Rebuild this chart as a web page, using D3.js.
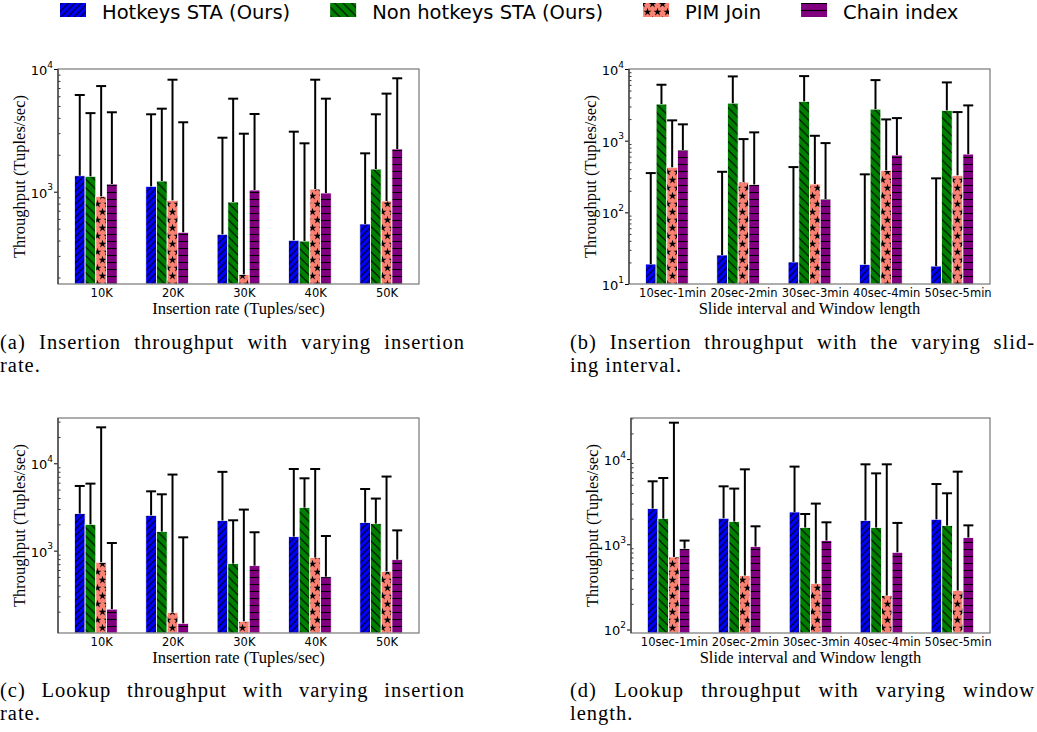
<!DOCTYPE html>
<html>
<head>
<meta charset="utf-8">
<script src="https://cdn.jsdelivr.net/npm/d3@7"></script>
<style>
body { margin: 0; background: #fff; }
svg { display: block; }
</style>
</head>
<body>
<svg id="fig" width="1037" height="732"></svg>
<script>
// series, in legend order
var series = ["Hotkeys STA (Ours)", "Non hotkeys STA (Ours)", "PIM Join", "Chain index"];
var seriesColors = ["#0000ff", "#008000", "#fa8072", "#800080"];

var rateCats = ["10K", "20K", "30K", "40K", "50K"];
var windowCats = ["10sec-1min", "20sec-2min", "30sec-3min", "40sec-4min", "50sec-5min"];

// (a) insertion throughput vs insertion rate: [series][category]
var insRateVals = [
  [1350, 1107, 450, 402, 546],
  [1335, 1222, 824, 396, 1530],
  [917, 851, 212, 1051, 840],
  [1155, 467, 1032, 976, 2230]
];
// upper end of each error bar
var insRateErrTop = [
  [6140, 4275, 2755, 3085, 2055],
  [4370, 4750, 5730, 2480, 4275],
  [7260, 8180, 2970, 8180, 6300],
  [4440, 3680, 4300, 5730, 8400]
];

// (b) insertion throughput vs slide interval
var insSlideVals = [
  [19, 25.4, 20.3, 18.8, 17.8],
  [3240, 3340, 3530, 2755, 2640],
  [425, 265, 248, 385, 328],
  [740, 245, 153, 630, 650]
];
var insSlideErrTop = [
  [353, 368, 428, 339, 298],
  [6030, 7880, 7960, 7000, 6500],
  [1920, 1052, 1170, 1980, 2505],
  [1690, 1306, 925, 2065, 3105]
];

// (c) lookup throughput vs insertion rate
var lookRateVals = [
  [2655, 2535, 2210, 1446, 2094],
  [2000, 1652, 710, 3110, 2037],
  [735, 195, 155, 832, 579],
  [214, 147, 673, 503, 788]
];
var lookRateErrTop = [
  [5500, 4775, 7980, 8600, 5080],
  [5850, 4415, 2225, 6730, 3945],
  [25800, 7430, 2950, 8600, 7050],
  [1222, 1420, 1623, 1470, 1706]
];

// (d) lookup throughput vs window length
var lookWinVals = [
  [2620, 2020, 2395, 1897, 1963],
  [2000, 1845, 1570, 1570, 1655],
  [710, 430, 346, 250, 286],
  [890, 940, 1105, 805, 1198]
];
var lookWinErrTop = [
  [5480, 4785, 8150, 8670, 5090],
  [5990, 4500, 2265, 6790, 3965],
  [26700, 7570, 3000, 8670, 7110],
  [1105, 1625, 1810, 1780, 1667]
];

var yLabel = "Throughput (Tuples/sec)";

var panels = [
  {id: "a", box: [58, 69, 419, 284], yDomain: [177, 1e4], cats: rateCats,
   vals: insRateVals, errs: insRateErrTop, xLabel: "Insertion rate (Tuples/sec)",
   caption: ["(a) Insertion throughput with varying insertion", "rate."], capX: 0, capY: 349},
  {id: "b", box: [629, 69, 990, 284], yDomain: [10, 1e4], cats: windowCats,
   vals: insSlideVals, errs: insSlideErrTop, xLabel: "Slide interval and Window length",
   caption: ["(b) Insertion throughput with the varying slid-", "ing interval."], capX: 570, capY: 349},
  {id: "c", box: [58, 418, 419, 633], yDomain: [114, 33000], cats: rateCats,
   vals: lookRateVals, errs: lookRateErrTop, xLabel: "Insertion rate (Tuples/sec)",
   caption: ["(c) Lookup throughput with varying insertion", "rate."], capX: 0, capY: 697},
  {id: "d", box: [631, 418, 990, 633], yDomain: [91, 30300], cats: windowCats,
   vals: lookWinVals, errs: lookWinErrTop, xLabel: "Slide interval and Window length",
   caption: ["(d) Lookup throughput with varying window", "length."], capX: 570, capY: 697}
];

var svg = d3.select("#fig");
var defs = svg.append("defs");

// hatch patterns: "//", "\\", "*", "-"
function makePatterns() {
  var p0 = defs.append("pattern").attr("id", "hatch0").attr("patternUnits", "userSpaceOnUse")
    .attr("width", 6.5).attr("height", 6.5);
  p0.append("rect").attr("width", 6.5).attr("height", 6.5).attr("fill", seriesColors[0]);
  p0.append("path").attr("d", "M-1,7.5L7.5,-1M-2,2L2,-2M4.5,8.5L8.5,4.5")
    .attr("stroke", "#000").attr("stroke-width", 1.1);

  var p1 = defs.append("pattern").attr("id", "hatch1").attr("patternUnits", "userSpaceOnUse")
    .attr("width", 8.5).attr("height", 8.5);
  p1.append("rect").attr("width", 8.5).attr("height", 8.5).attr("fill", seriesColors[1]);
  p1.append("path").attr("d", "M-1,-1L9.5,9.5M-2,6.5L2,10.5M6.5,-2L10.5,2")
    .attr("stroke", "#000").attr("stroke-width", 1.1);

  var p2 = defs.append("pattern").attr("id", "hatch2").attr("patternUnits", "userSpaceOnUse")
    .attr("width", 10).attr("height", 16);
  p2.append("rect").attr("width", 10).attr("height", 16).attr("fill", seriesColors[2]);
  var star = d3.symbol().type(d3.symbolStar).size(20)();
  [[2.5, 4], [7.5, 12], [12.5, 4], [-2.5, 12]].forEach(function(c) {
    p2.append("path").attr("d", star).attr("transform", "translate(" + c[0] + "," + c[1] + ")").attr("fill", "#000");
  });

  var p3 = defs.append("pattern").attr("id", "hatch3").attr("patternUnits", "userSpaceOnUse")
    .attr("width", 8).attr("height", 7);
  p3.append("rect").attr("width", 8).attr("height", 7).attr("fill", seriesColors[3]);
  p3.append("path").attr("d", "M0,3.5H8").attr("stroke", "#000").attr("stroke-width", 1.1);
}
makePatterns();

function drawPanel(p) {
  var L = p.box[0], T = p.box[1], R = p.box[2], B = p.box[3];
  var g = svg.append("g").attr("class", "panel-" + p.id);
  var x = d3.scaleLinear().domain([-0.305, 4.755]).range([L, R]);
  var y = d3.scaleLog().domain(p.yDomain).range([B, T]);
  var bw = x(0.15) - x(0);

  defs.append("clipPath").attr("id", "clip-" + p.id)
    .append("rect").attr("x", L).attr("y", T).attr("width", R - L).attr("height", B - T);

  var plot = g.append("g").attr("clip-path", "url(#clip-" + p.id + ")");

  series.forEach(function(s, k) {
    plot.append("g").selectAll("rect")
      .data(p.vals[k])
      .enter()
      .append("rect")
      .attr("x", function(d, i) { return x(i + k * 0.15) - bw / 2; })
      .attr("y", function(d) { return y(d); })
      .attr("width", bw)
      .attr("height", function(d) { return B - y(d); })
      .attr("fill", "url(#hatch" + k + ")")
      .attr("stroke", "#fff")
      .attr("stroke-width", 0.8);
  });

  // upper error bars with caps
  series.forEach(function(s, k) {
    var eb = plot.append("g").selectAll("g")
      .data(p.vals[k].map(function(v, i) { return {i: i, v: v, top: p.errs[k][i]}; }))
      .enter()
      .append("g");
    eb.append("line")
      .attr("x1", function(d) { return x(d.i + k * 0.15); })
      .attr("x2", function(d) { return x(d.i + k * 0.15); })
      .attr("y1", function(d) { return y(d.v); })
      .attr("y2", function(d) { return y(d.top); })
      .attr("stroke", "#000").attr("stroke-width", 2);
    eb.append("line")
      .attr("x1", function(d) { return x(d.i + k * 0.15) - 5; })
      .attr("x2", function(d) { return x(d.i + k * 0.15) + 5; })
      .attr("y1", function(d) { return y(d.top); })
      .attr("y2", function(d) { return y(d.top); })
      .attr("stroke", "#000").attr("stroke-width", 2);
  });

  // y axis: majors outward with 10^n labels, minors inward
  var lo = Math.log10(p.yDomain[0]), hi = Math.log10(p.yDomain[1]);
  var majors = [], minors = [];
  for (var e = Math.floor(lo); e <= Math.ceil(hi); e++) {
    var base = Math.pow(10, e);
    if (base >= p.yDomain[0] * 0.999 && base <= p.yDomain[1] * 1.001) majors.push(base);
    for (var m = 2; m <= 9; m++) {
      var v = m * base;
      if (v > p.yDomain[0] && v < p.yDomain[1]) minors.push(v);
    }
  }

  var minorAxis = g.append("g").attr("transform", "translate(" + L + ",0)")
    .call(d3.axisLeft(y).tickValues(minors).tickSize(-2.5).tickFormat(""));
  minorAxis.select(".domain").remove();
  minorAxis.selectAll("line").attr("stroke", "#333");

  var majorAxis = g.append("g").attr("transform", "translate(" + L + ",0)")
    .call(d3.axisLeft(y).tickValues(majors).tickSize(4).tickPadding(2).tickFormat(function() { return ""; }));
  majorAxis.select(".domain").remove();
  majorAxis.selectAll(".tick text").each(function(d) {
    var t = d3.select(this)
      .attr("font-family", "DejaVu Sans").attr("font-size", 13).attr("fill", "#000")
      .attr("dy", "0.42em").attr("x", -5);
    t.append("tspan").text("10");
    t.append("tspan").attr("font-size", 9).attr("dy", "-0.8em").text(Math.round(Math.log10(d)));
  });

  // x axis: category labels under the third bar of each group
  var xAxis = g.append("g").attr("transform", "translate(0," + B + ")")
    .call(d3.axisBottom(x).tickValues(d3.range(p.cats.length).map(function(i) { return i + 0.3; }))
      .tickSize(0).tickPadding(5).tickFormat(function(d, i) { return p.cats[i]; }));
  xAxis.select(".domain").remove();
  xAxis.selectAll("text").attr("font-family", "DejaVu Sans").attr("font-size", 11.5).attr("fill", "#000");

  // frame
  g.append("rect").attr("x", L).attr("y", T).attr("width", R - L).attr("height", B - T)
    .attr("fill", "none").attr("stroke", "#777").attr("stroke-width", 1.2);
  g.append("line").attr("x1", L).attr("x2", L).attr("y1", T).attr("y2", B)
    .attr("stroke", "#333").attr("stroke-width", 1.2);

  // axis labels
  g.append("text")
    .attr("x", (L + R) / 2).attr("y", B + 30)
    .attr("text-anchor", "middle")
    .attr("font-family", "Liberation Serif").attr("font-size", 16.5)
    .text(p.xLabel);
  g.append("text")
    .attr("transform", "translate(" + (L - 33) + "," + ((T + B) / 2) + ") rotate(-90)")
    .attr("text-anchor", "middle")
    .attr("font-family", "Liberation Serif").attr("font-size", 16.5)
    .text(yLabel);

  // caption, first line justified to full column width
  var capW = 465;
  p.caption.forEach(function(line, li) {
    var t = svg.append("text")
      .attr("x", p.capX).attr("y", p.capY + li * 23)
      .attr("font-family", "Liberation Serif").attr("font-size", 20.5)
      .attr("letter-spacing", 1)
      .attr("fill", "#000")
      .text(line);
    if (li === 0) {
      var gaps = line.split(" ").length - 1;
      var extra = (capW - t.node().getComputedTextLength()) / gaps;
      t.attr("word-spacing", Math.max(0, extra));
    }
  });
}

panels.forEach(drawPanel);

// legend across the top
var legend = svg.append("g").attr("class", "legend");
var lx = 60;
series.forEach(function(s, k) {
  legend.append("rect")
    .attr("x", lx).attr("y", 3).attr("width", 26).attr("height", 14)
    .attr("fill", "url(#hatch" + k + ")");
  var t = legend.append("text")
    .attr("x", lx + 42).attr("y", 18.5)
    .attr("font-family", "DejaVu Sans").attr("font-size", 19.5)
    .attr("fill", "#000")
    .text(s);
  lx = lx + 42 + t.node().getComputedTextLength() + 40;
});
</script>
</body>
</html>
